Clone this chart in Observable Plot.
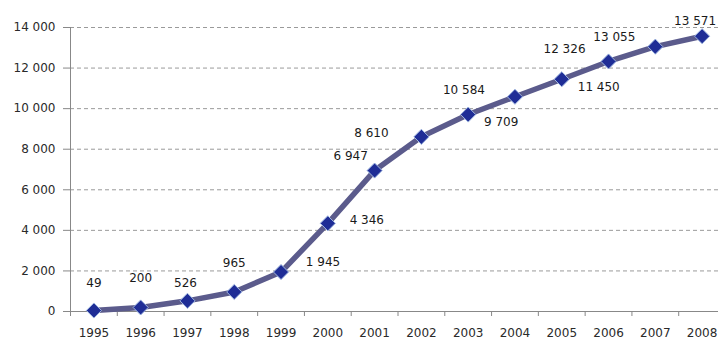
<!DOCTYPE html>
<html>
<head>
<meta charset="utf-8">
<script src="https://cdn.jsdelivr.net/npm/d3@7"></script>
<script src="https://cdn.jsdelivr.net/npm/@observablehq/plot@0.6"></script>
<style>
  html, body { margin: 0; padding: 0; background: #fff; }
  #chart svg { display: block; }
</style>
</head>
<body>
<div id="chart"></div>
<script>
const years = [1995, 1996, 1997, 1998, 1999, 2000, 2001, 2002, 2003, 2004, 2005, 2006, 2007, 2008];
const values = [49, 200, 526, 965, 1945, 4346, 6947, 8610, 9709, 10584, 11450, 12326, 13055, 13571];
const yTicks = [0, 2000, 4000, 6000, 8000, 10000, 12000, 14000];
// label nudges in pixels [dx, dy], layout only
const labelNudge = [[0,-27],[0,-29],[-2,-18],[0,-29],[42,-10],[39,-3],[-24,-14],[-50,-4],[33,8],[-51,-7],[37,8],[-44,-12],[-41,-10],[-7,-15]];

const data = years.map((year, i) => ({year, value: values[i]}));
const fmt = d3.formatLocale({decimal: ",", thousands: " ", grouping: [3], currency: ["", ""]}).format(",d");
const boundaries = d3.range(years[0] - 0.5, years[years.length - 1] + 1, 1);

const font = "DejaVu Sans, Verdana, sans-serif";

const chart = Plot.plot({
  width: 718,
  height: 343,
  marginLeft: 70,
  marginRight: 0,
  marginTop: 27,
  marginBottom: 32,
  style: {fontFamily: font, fontSize: "12px", background: "#fff", overflow: "visible"},
  x: {domain: [years[0] - 0.5, years[years.length - 1] + 0.5], range: [70, 725], label: null},
  y: {domain: [0, 14000], range: [311, 27], label: null},
  marks: [
    Plot.ruleY(yTicks.filter(d => d > 0), {stroke: "#9a9a9a", strokeDasharray: "4,3", strokeWidth: 1}),
    Plot.axisY({ticks: yTicks, tickFormat: fmt, tickSize: 7, tickPadding: 8, stroke: "#888", fill: "#2a2a2a", fontSize: 12, label: null}),
    Plot.ruleX([years[0] - 0.5], {stroke: "#888"}),
    Plot.ruleY([0], {stroke: "#888"}),
    Plot.axisX({ticks: boundaries, tickFormat: () => "", tickSize: 5, stroke: "#888", label: null}),
    Plot.axisX({ticks: years, tickFormat: d => String(d), tickSize: 0, tickPadding: 17, fill: "#2a2a2a", fontSize: 12, label: null}),
    Plot.line(data, {x: "year", y: "value", stroke: "#5b5b8c", strokeWidth: 5.5}),
    Plot.dot(data, {x: "year", y: "value", symbol: "diamond2", r: 6.8, fill: "#1f2d96", stroke: "#9fb6e0", strokeWidth: 1}),
    ...data.map((d, i) => Plot.text([d], {x: "year", y: "value", text: e => fmt(e.value), dx: labelNudge[i][0], dy: labelNudge[i][1], fill: "#1a1a1a", fontSize: 12}))
  ]
});
document.getElementById("chart").append(chart);
</script>
</body>
</html>
